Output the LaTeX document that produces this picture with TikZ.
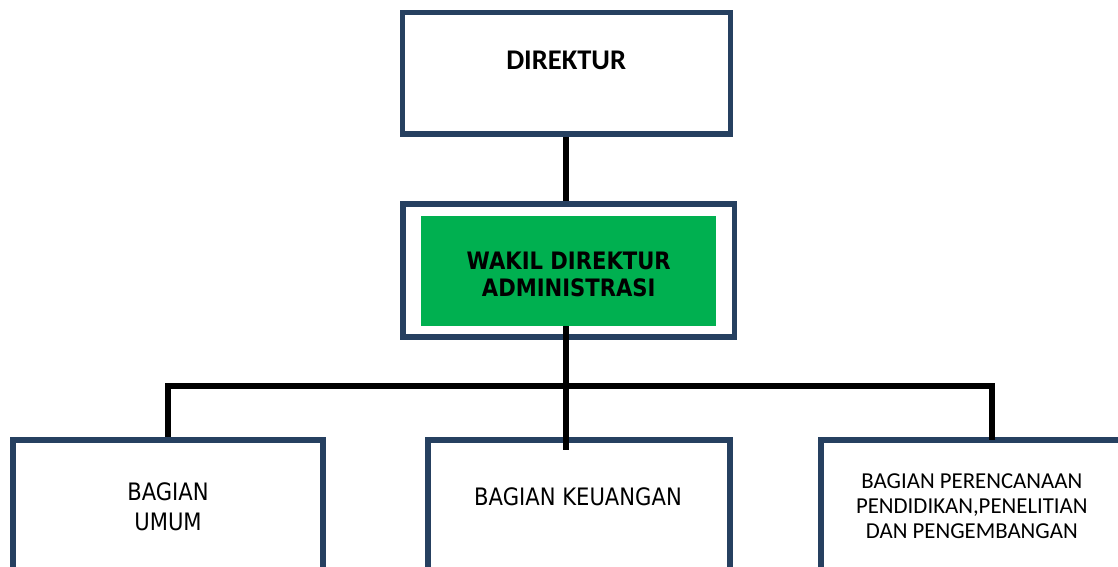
\documentclass[tikz,border=0pt]{standalone}
\usepackage{fontspec}
\setmainfont{DejaVu Sans}[FakeStretch=0.88]
\newfontfamily\carlito{Carlito}
\definecolor{garisbiru}{RGB}{38,64,96}
\definecolor{hijau}{RGB}{0,176,80}
\tikzset{
  kotak/.style={draw=garisbiru, line width=5.7pt, inner sep=0pt},
  hubung/.style={draw=black, line width=6pt},
  judul/.style={font=\carlito\fontsize{28.5}{32}\selectfont\bfseries, align=center},
  tebal/.style={font=\fontsize{24}{27}\selectfont\bfseries, align=center},
  biasa/.style={font=\fontsize{24}{30}\selectfont, align=center},
  kecil/.style={font=\carlito\fontsize{22.8}{25}\selectfont, align=center}
}
\begin{document}
\begin{tikzpicture}[x=1pt,y=-1pt]
\clip (0,0) rectangle (1118,567);
\fill[white] (0,0) rectangle (1118,567);
\node[kotak, minimum width=328pt, minimum height=121.5pt] (direktur) at (566.5,73.25) {};
\node[kotak, minimum width=331.5pt, minimum height=133.3pt] (wakil) at (568.75,270.35) {};
\node[fill=hijau, inner sep=0pt, minimum width=294.7pt, minimum height=110pt] (kotakhijau) at (568.35,271) {};
\node[kotak, minimum width=310.5pt, minimum height=180.3pt] (umum) at (168,529.85) {};
\node[kotak, minimum width=301.9pt, minimum height=180.3pt] (keuangan) at (578.75,529.85) {};
\node[kotak, minimum width=301.4pt, minimum height=180.3pt] (perencanaan) at (971.7,529.85) {};
\node[judul] (tdirektur) at (566.2,60) {DIREKTUR};
\node[tebal] (twakil) at (568.7,274.5) {WAKIL DIREKTUR\\ADMINISTRASI};
\node[biasa] (tumum) at (168,506.3) {BAGIAN\\UMUM};
\node[biasa] (tkeuangan) at (578,497) {BAGIAN KEUANGAN};
\node[kecil] (tperencanaan) at (971.8,505.8) {BAGIAN PERENCANAAN\\PENDIDIKAN,PENELITIAN\\DAN PENGEMBANGAN};
\coordinate (bus) at (566,385.5);
\coordinate (ujung) at (566,450);
\coordinate (kanan) at (991.7,439.5);
\draw[hubung] (direktur.south -| bus) -- (wakil.north -| bus);
\draw[hubung] (kotakhijau.south -| bus) -- (ujung);
\draw[hubung] (umum.north) |- (bus) -| (kanan);
\end{tikzpicture}
\end{document}
